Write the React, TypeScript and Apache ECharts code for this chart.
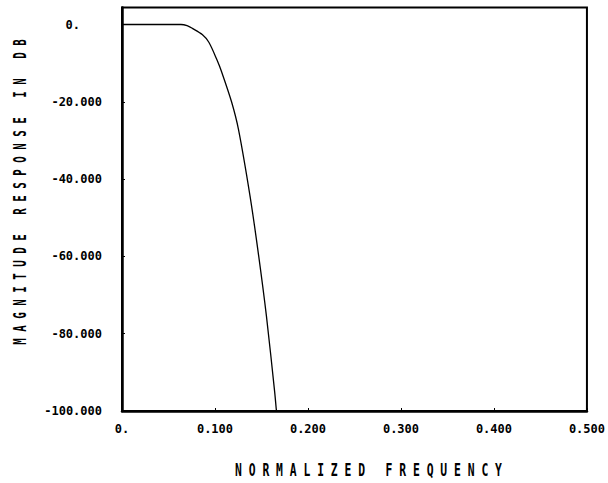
import React, { useEffect, useRef } from "react";
import * as echarts from "echarts";

const freq = [0, 0.03, 0.05, 0.0634, 0.070, 0.0757, 0.0863, 0.0934, 0.1022, 0.1072, 0.1178, 0.1253, 0.1377, 0.1465, 0.1553, 0.1642, 0.1659, 0.1662];
const magDb = [0, 0, 0, 0, -0.3, -1.0, -2.6, -4.6, -9.2, -12.3, -20.0, -27.2, -44.4, -59.0, -75.4, -95.1, -99.5, -100];

const xTicks = [0, 0.1, 0.2, 0.3, 0.4, 0.5];
const yTicks = [-100, -80, -60, -40, -20, 0];
const xTitle = "NORMALIZED FREQUENCY";
const yTitle = "MAGNITUDE RESPONSE IN DB";

const MONO = "'DejaVu Sans Mono', 'Liberation Mono', monospace";
const spaced = (s: string) => s.split("").join(" ");

export default function App() {
  const ref = useRef<HTMLDivElement>(null);
  useEffect(() => {
    if (!ref.current) return;
    const chart = echarts.init(ref.current, null, { renderer: "svg" });
    const data = freq.map((f, i) => [f, magDb[i]]);
    chart.setOption({
      animation: false,
      backgroundColor: "#fff",
      grid: { left: 122, right: 15, top: 7.5, bottom: 72, show: true, borderColor: "#000", borderWidth: 2, containLabel: false },
      xAxis: {
        type: "value",
        min: xTicks[0],
        max: xTicks[xTicks.length - 1],
        interval: 0.1,
        axisLine: { show: true, onZero: false, lineStyle: { color: "#000", width: 2.5 } },
        axisTick: { show: true, inside: true, length: 3, lineStyle: { color: "#000", width: 1 } },
        splitLine: { show: false },
        axisLabel: {
          margin: 12,
          color: "#000",
          fontFamily: MONO,
          fontWeight: "bold",
          fontSize: 12,
          formatter: (v: number) => (Math.abs(v) < 1e-9 ? "0." : v.toFixed(3)),
        },
      },
      yAxis: {
        type: "value",
        min: yTicks[0],
        max: 4.4,
        interval: 20,
        axisLine: { show: true, onZero: false, lineStyle: { color: "#000", width: 2.5 } },
        axisTick: { show: true, inside: true, length: 3, lineStyle: { color: "#000", width: 1 } },
        splitLine: { show: false },
        showMaxLabel: false,
        axisLabel: {
          margin: 20,
          color: "#000",
          fontFamily: MONO,
          fontWeight: "bold",
          fontSize: 12,
          formatter: (v: number) => {
            if (!yTicks.some((t) => Math.abs(t - v) < 1e-6)) return "";
            if (Math.abs(v) < 1e-9) return "{z|0.}";
            return v.toFixed(3);
          },
          rich: {
            z: { fontFamily: MONO, fontWeight: "bold", fontSize: 12, color: "#000", padding: [0, 22, 0, 0] },
          },
        },
      },
      graphic: [
        {
          type: "text",
          x: 368.5,
          y: 470,
          scaleX: 0.632,
          style: {
            text: spaced(xTitle),
            font: `bold 18px ${MONO}`,
            fill: "#000",
            textAlign: "center",
            textVerticalAlign: "middle",
          },
        },
        {
          type: "text",
          x: 19,
          y: 192,
          rotation: Math.PI / 2,
          scaleX: 0.6,
          style: {
            text: spaced(yTitle),
            font: `bold 18px ${MONO}`,
            fill: "#000",
            textAlign: "center",
            textVerticalAlign: "middle",
          },
        },
      ],
      series: [
        {
          type: "line",
          data,
          showSymbol: false,
          smooth: 0.3,
          lineStyle: { color: "#000", width: 1.3 },
        },
      ],
    });
    return () => chart.dispose();
  }, []);
  return <div ref={ref} style={{ width: 608, height: 483, position: "absolute", left: 0, top: 0 }} />;
}
